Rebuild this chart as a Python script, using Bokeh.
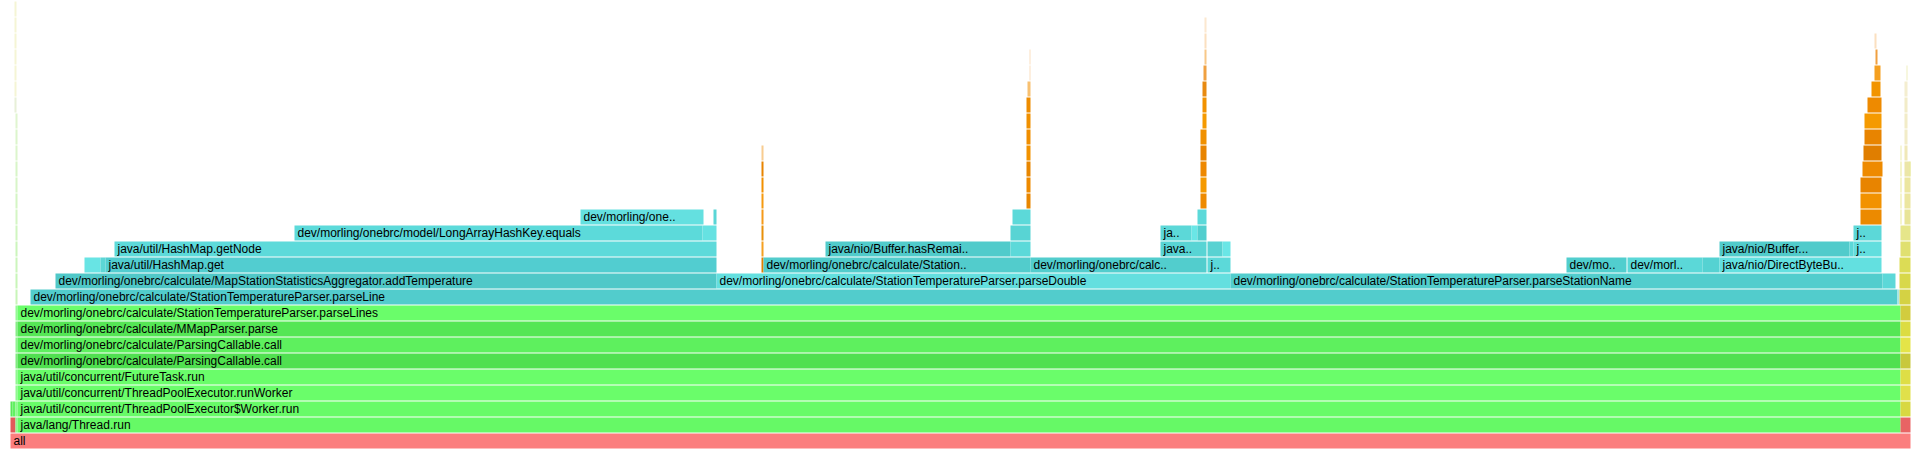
from bokeh.plotting import figure
from bokeh.models import ColumnDataSource, Range1d
from bokeh.core.properties import value
from bokeh.embed import file_html
from bokeh.resources import INLINE

# Flame graph frames (samples; total = 1900)
frame_level = [
    0,
    1, 1, 1, 1,
    2, 2, 2, 2, 2,
    3, 3, 3,
    4, 4, 4,
    5, 5, 5,
    6, 6, 6,
    7, 7, 7,
    8, 8, 8,
    9, 9, 9, 9,
    10, 10, 10, 10, 10, 10,
    11, 11, 11, 11, 11, 11, 11, 11, 11, 11, 11, 11, 11,
    12, 12, 12, 12, 12, 12, 12, 12, 12, 12, 12, 12,
    13, 13, 13, 13, 13, 13, 13, 13, 13, 13,
    14, 14, 14, 14, 14, 14, 14, 14, 14,
    15, 15, 15, 15, 15, 15, 15,
    16, 16, 16, 16, 16, 16, 16,
    17, 17, 17, 17, 17, 17, 17, 17,
    18, 18, 18, 18, 18, 18, 18,
    19, 19, 19, 19, 19,
    20, 20, 20, 20, 20,
    21, 21, 21, 21, 21,
    22, 22, 22, 22, 22,
    23, 23, 23, 23, 23,
    24, 24, 24, 24,
    25, 25, 25,
    26, 26,
    27,
]
frame_start = [
    0,
    0, 5, 7, 1890,
    0, 2, 5, 7, 1890,
    5, 7, 1890,
    5, 7, 1890,
    5, 7, 1890,
    5, 7, 1890,
    5, 7, 1890,
    5, 7, 1890,
    5, 20, 1887, 1889,
    5, 45, 706, 1220, 1872, 1889,
    5, 74, 90, 95, 751, 753, 1020, 1197, 1556, 1617, 1692, 1709, 1889,
    5, 104, 751, 815, 1000, 1150, 1197, 1212, 1709, 1839, 1843, 1890,
    5, 284, 692, 751, 1000, 1150, 1181, 1187, 1843, 1890,
    5, 570, 703, 751, 1002, 1187, 1850, 1890, 1894,
    5, 751, 1016, 1190, 1850, 1890, 1894,
    5, 751, 1016, 1190, 1850, 1890, 1894,
    5, 751, 1016, 1190, 1852, 1890, 1894, 1899,
    5, 751, 1016, 1190, 1853, 1890, 1894,
    5, 1016, 1190, 1854, 1894,
    5, 1016, 1192, 1854, 1894,
    4, 1016, 1192, 1857, 1894,
    4, 1017, 1192, 1861, 1894,
    4, 1019, 1193, 1864, 1896,
    4, 1019, 1194, 1865,
    4, 1194, 1864,
    4, 1194,
    4,
]
frame_width = [
    1900,
    5, 2, 1883, 10,
    2, 3, 2, 1883, 10,
    2, 1883, 10,
    2, 1883, 10,
    2, 1883, 10,
    2, 1883, 10,
    2, 1883, 10,
    2, 1883, 10,
    2, 1867, 2, 11,
    2, 661, 514, 652, 13, 11,
    2, 16, 5, 611, 2, 267, 176, 23, 60, 75, 17, 162, 11,
    2, 602, 2, 185, 20, 46, 15, 8, 130, 4, 28, 10,
    2, 408, 14, 2, 20, 31, 6, 9, 28, 10,
    2, 123, 3, 2, 18, 9, 21, 1, 6,
    2, 2, 4, 6, 21, 1, 6,
    2, 2, 4, 6, 21, 1, 6,
    2, 2, 4, 6, 20, 1, 5, 1,
    2, 2, 4, 6, 18, 1, 3,
    2, 4, 6, 17, 3,
    2, 4, 4, 17, 3,
    2, 4, 4, 14, 3,
    2, 3, 4, 9, 3,
    2, 1, 3, 6, 1,
    2, 1, 2, 2,
    2, 2, 2,
    2, 2,
    2,
]
frame_label = [
    "all",
    "", "", "java/lang/Thread.run", "",
    "", "", "", "java/util/concurrent/ThreadPoolExecutor$Worker.run", "",
    "", "java/util/concurrent/ThreadPoolExecutor.runWorker", "",
    "", "java/util/concurrent/FutureTask.run", "",
    "", "dev/morling/onebrc/calculate/ParsingCallable.call", "",
    "", "dev/morling/onebrc/calculate/ParsingCallable.call", "",
    "", "dev/morling/onebrc/calculate/MMapParser.parse", "",
    "", "dev/morling/onebrc/calculate/StationTemperatureParser.parseLines", "",
    "", "dev/morling/onebrc/calculate/StationTemperatureParser.parseLine", "", "",
    "", "dev/morling/onebrc/calculate/MapStationStatisticsAggregator.addTemperature",
    "dev/morling/onebrc/calculate/StationTemperatureParser.parseDouble",
    "dev/morling/onebrc/calculate/StationTemperatureParser.parseStationName", "", "",
    "", "", "", "java/util/HashMap.get", "", "dev/morling/onebrc/calculate/Station..",
    "dev/morling/onebrc/calc..", "j..", "dev/mo..", "dev/morl..", "", "java/nio/DirectByteBu..", "",
    "", "java/util/HashMap.getNode", "", "java/nio/Buffer.hasRemai..", "", "java..", "", "",
    "java/nio/Buffer...", "", "j..", "",
    "", "dev/morling/onebrc/model/LongArrayHashKey.equals", "", "", "", "ja..", "", "", "j..", "",
    "", "dev/morling/one..", "", "", "", "", "", "", "",
    "", "", "", "", "", "", "",
    "", "", "", "", "", "", "",
    "", "", "", "", "", "", "", "",
    "", "", "", "", "", "", "",
    "", "", "", "", "",
    "", "", "", "", "",
    "", "", "", "", "",
    "", "", "", "", "",
    "", "", "", "", "",
    "", "", "", "",
    "", "", "",
    "", "",
    "",
]
frame_color = [
    "#fb7e7e",
    "#e15a5a", "#8ef88e", "#66f966", "#e86464",
    "#58e858", "#62f262", "#8ef88e", "#68fb68", "#d8d842",
    "#90f890", "#6afd6a", "#e0e04a",
    "#90f890", "#6afd6a", "#dede46",
    "#80ec80", "#50e050", "#c8c83c",
    "#8ef48e", "#5ef05e", "#e4e448",
    "#86ee86", "#55e655", "#dcdc42",
    "#94fa94", "#6afd6a", "#d2cc3e",
    "#c8f5b8", "#52cccc", "#a8e6e6", "#d4d244",
    "#c8f5b8", "#50c8c8", "#64dfdf", "#52cdcd", "#5cd8d8", "#d8d84a",
    "#ccf5bc", "#68e4e4", "#5cd6d6", "#52cdd0", "#e08000", "#52cccc", "#52cdcd", "#5cd9d9",
    "#51cece", "#5bd8d8", "#55d2d2", "#63e0e0", "#dcdc55",
    "#ccf5bc", "#5ddada", "#f5a020", "#51cbcb", "#5cd9d9", "#58d4d4", "#58d2d2", "#6ae6e6",
    "#51cbcb", "#5cd8d8", "#62dede", "#e0e070",
    "#d0f5c0", "#5cdada", "#66e2e2", "#e8900a", "#58d4d4", "#5cd8d8", "#6ae6e6", "#52cece",
    "#5cd8d8", "#e6e68a",
    "#d4f5c4", "#64e0e0", "#5ad6d6", "#f59a1a", "#5cd9d9", "#5cd9d9", "#ec8a00", "#ecec9a", "#e8e498",
    "#d4f5c4", "#f59a10", "#e88600", "#ee8a00", "#f29200", "#ecec9a", "#ece6a0",
    "#d8f5c8", "#f29000", "#ee8a00", "#f59a00", "#e88400", "#ecec9a", "#ece6a0",
    "#d8f5c8", "#e88400", "#e88600", "#ee8800", "#ee8a00", "#ecec9a", "#ece6a8", "#e0e070",
    "#dcf5cc", "#f8cc90", "#f29200", "#e88400", "#e07e00", "#eeeeb0", "#f0e8b8",
    "#dcf5cc", "#f08e00", "#f09000", "#e88400", "#f2ecc8",
    "#e0f5d0", "#f09000", "#f59a00", "#f59a00", "#f2ecc8",
    "#e8f0d8", "#ee8c00", "#f29200", "#ee8a00", "#f2ecc8",
    "#f5f5d5", "#f8c070", "#e88a10", "#f29400", "#f4eed0",
    "#f5f5d5", "#fbe0c0", "#f0a040", "#f5a020", "#f0f0c0",
    "#f5f5d5", "#fbe0c0", "#f8c888", "#f0a040",
    "#f5f5d5", "#fbe0c0", "#fbe0c0",
    "#f5f5d5", "#fce8d0",
    "#f5f5d5",
]

ROW = 15 / 16  # fraction of a level occupied by a frame (1px gap)

src = ColumnDataSource(dict(
    left=frame_start,
    right=[s + w for s, w in zip(frame_start, frame_width)],
    bottom=frame_level,
    top=[lv + ROW for lv in frame_level],
    color=frame_color,
))

lab_idx = [i for i, t in enumerate(frame_label) if t]
tsrc = ColumnDataSource(dict(
    x=[frame_start[i] for i in lab_idx],
    y=[frame_level[i] + ROW / 2 for i in lab_idx],
    label=[frame_label[i] for i in lab_idx],
))

p = figure(width=1915, height=461,
           x_range=Range1d(-10, 1905), y_range=Range1d(-0.8125, 28),
           output_backend="svg", toolbar_location=None,
           x_axis_type=None, y_axis_type=None, min_border=0)
p.grid.visible = False
p.outline_line_color = None
p.background_fill_color = "white"
p.border_fill_color = "white"

p.quad(left="left", right="right", bottom="bottom", top="top",
       fill_color="color", line_color=None, source=src)
p.text(x="x", y="y", text="label", source=tsrc, x_offset=3,
       text_font=value("Liberation Sans"), text_font_size="12px",
       text_baseline="middle", text_color="#000000")

open("out.html", "w").write(file_html(p, INLINE))
